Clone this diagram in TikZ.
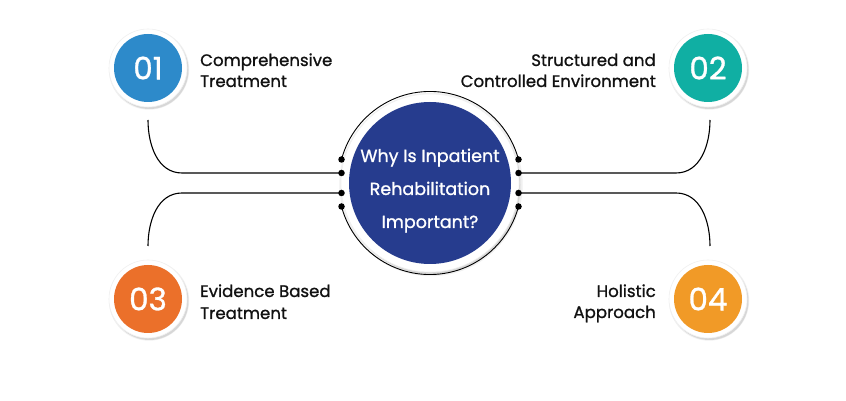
\documentclass[tikz,border=0pt]{standalone}
\usepackage{fontspec}
\setmainfont{Poppins}[FakeBold=1.0]
\usetikzlibrary{shadows}
\definecolor{cone}{HTML}{2D8ACA}
\definecolor{ctwo}{HTML}{10AFA3}
\definecolor{cthree}{HTML}{EB702A}
\definecolor{cfour}{HTML}{F19A27}
\definecolor{cnavy}{HTML}{263C8E}
\definecolor{txt}{HTML}{111111}
\begin{document}
\begin{tikzpicture}[x=1pt,y=1pt,
  ringnode/.style={circle, fill=white, draw=black!6, line width=0.6pt, minimum size=#1, inner sep=0,
    drop shadow={shadow xshift=1.5pt, shadow yshift=-2pt, opacity=0.10, fill=black},
    drop shadow={shadow xshift=1pt, shadow yshift=-1.5pt, shadow scale=1.03, opacity=0.06, fill=black}},
  numcircle/.style={circle, fill=#1, minimum size=68pt, inner sep=0, text=white,
    font=\fontsize{31}{31}\selectfont},
  dotn/.style={circle, fill=black, minimum size=6.5pt, inner sep=0},
  conn/.style={draw=black, line width=1.1pt},
  lbl/.style={inner sep=0, text=txt, font=\fontsize{16.6}{19}\selectfont},
  ctext/.style={inner sep=0, text=white, anchor=base, font=\fontsize{17.5}{20}\selectfont}
]
\useasboundingbox (0,0) rectangle (846,401);
\fill[white] (0,0) rectangle (846,401);

% central circle
\node[ringnode=178pt] (cring) at (430,218) {};
\node[circle, fill=cnavy, minimum size=162pt, inner sep=0] (core) at (430,218) {};
\node[ctext] (t1) at (430,239) {Why Is Inpatient};
\node[ctext] (t2) at (430,206) {Rehabilitation};
\node[ctext] (t3) at (430,173) {Important?};

% dots
\node[dotn] (dl1) at (341.5,241.5) {};
\node[dotn] (dl2) at (341.5,228) {};
\node[dotn] (dl3) at (341.5,208) {};
\node[dotn] (dl4) at (341.5,194.5) {};
\node[dotn] (dr1) at (518.5,241.5) {};
\node[dotn] (dr2) at (518.5,228) {};
\node[dotn] (dr3) at (518.5,208) {};
\node[dotn] (dr4) at (518.5,194.5) {};

% arcs around the central circle
\draw[line width=0.9pt] (dl1.center) arc[start angle=165.1, end angle=14.9, radius=91.57];
\draw[line width=0.9pt] (dl4.center) arc[start angle=194.9, end angle=345.1, radius=91.57];

% free ends
\coordinate (el1) at (148,281);
\coordinate (el3) at (148,155);
\coordinate (er2) at (710,281);
\coordinate (er4) at (710,155);

\draw[conn] (dl2.center) -- (182,228) to[out=180,in=-90] (el1);
\draw[conn] (dl3.center) -- (182,208) to[out=180,in=90] (el3);
\draw[conn] (dr2.center) -- (676,228) to[out=0,in=-90] (er2);
\draw[conn] (dr3.center) -- (676,208) to[out=0,in=90] (er4);

% number circles
\node[ringnode=78pt] (r1) at (148,333) {};
\node[numcircle=cone] (n1) at (148,333) {01};
\node[ringnode=78pt] (r2) at (708,333) {};
\node[numcircle=ctwo] (n2) at (708,333) {02};
\node[ringnode=78pt] (r3) at (148,102) {};
\node[numcircle=cthree] (n3) at (148,102) {03};
\node[ringnode=78pt] (r4) at (708,102) {};
\node[numcircle=cfour] (n4) at (708,102) {04};

% labels
\node[lbl, anchor=base west] (l1a) at (200,335) {Comprehensive};
\node[lbl, anchor=base west] (l1b) at (200,314) {Treatment};
\node[lbl, anchor=base east] (l2a) at (656,335) {Structured and};
\node[lbl, anchor=base east] (l2b) at (656,314) {Controlled Environment};
\node[lbl, anchor=base west] (l3a) at (200,104) {Evidence Based};
\node[lbl, anchor=base west] (l3b) at (200,82) {Treatment};
\node[lbl, anchor=base east] (l4a) at (656,104) {Holistic};
\node[lbl, anchor=base east] (l4b) at (656,83) {Approach};
\end{tikzpicture}
\end{document}
